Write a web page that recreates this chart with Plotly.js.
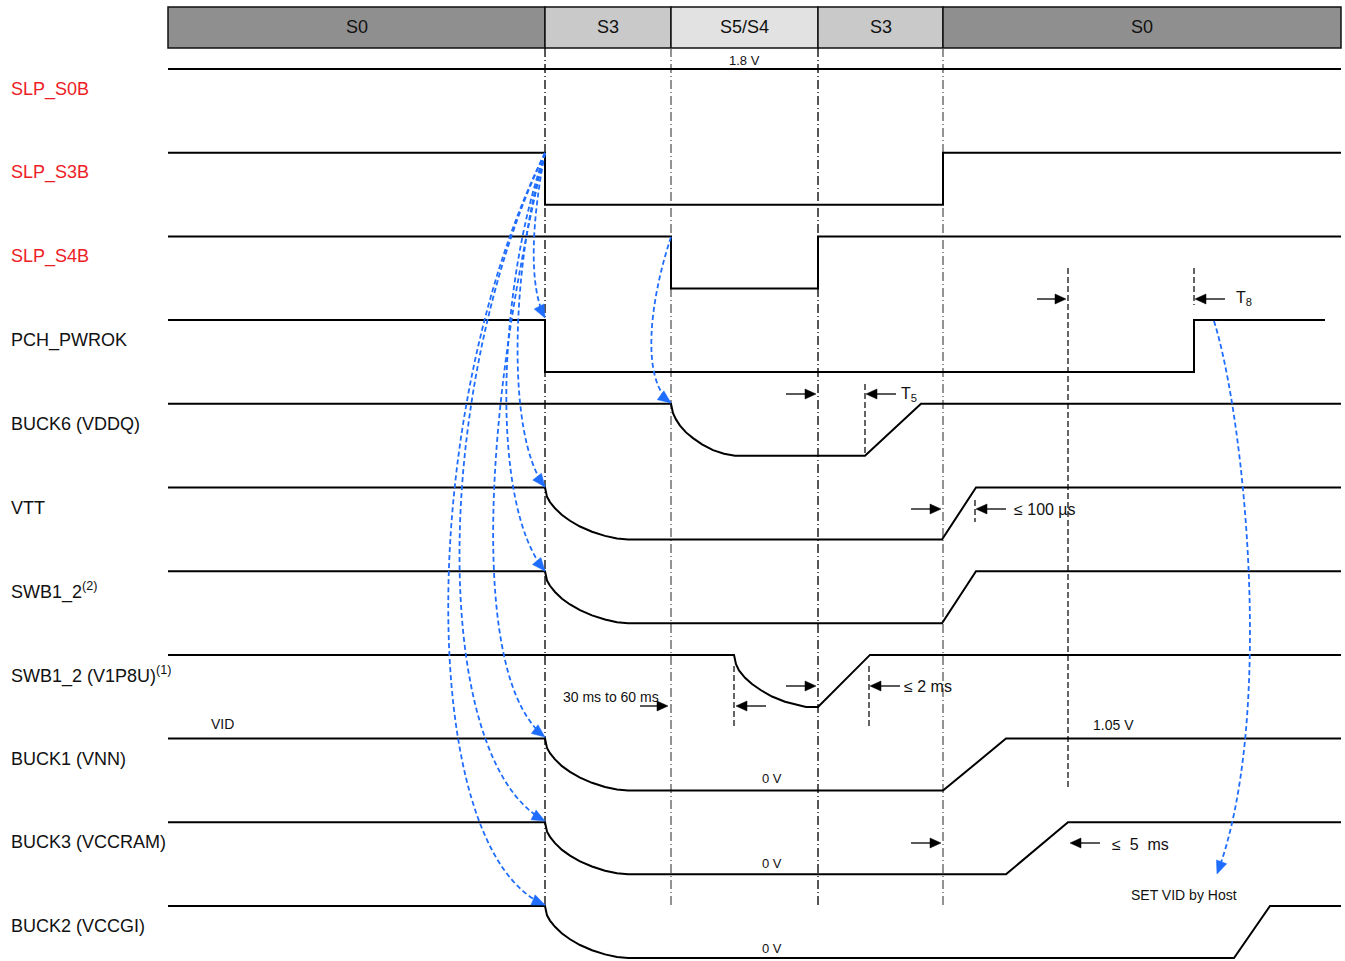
<!DOCTYPE html>
<html><head><meta charset="utf-8">
<script src="https://cdn.plot.ly/plotly-3.0.1.min.js"></script>
<style>html,body{margin:0;padding:0;background:#fff;overflow:hidden}</style>
</head><body>
<div id="chart" style="width:1345px;height:961px"></div>
<script>
// ---------------- DATA ----------------
const signalNames = ['SLP_S0B','SLP_S3B','SLP_S4B','PCH_PWROK','BUCK6 (VDDQ)','VTT',
  'SWB1_2<sup>(2)</sup>','SWB1_2 (V1P8U)<sup>(1)</sup>','BUCK1 (VNN)','BUCK3 (VCCRAM)','BUCK2 (VCCGI)'];
const labelColors = ['#ee1c25','#ee1c25','#ee1c25','#111','#111','#111','#111','#111','#111','#111','#111'];

const stateLabels = ['S0','S3','S5/S4','S3','S0'];
const stateEdges  = [168,545,671,818,943,1341];

// waveform time points (diagram time units) and normalised levels (1 = high, 0 = low)
const tS0B  = [168,1341];                         const vS0B  = [1,1];
const tS3B  = [168,545,545,943,943,1341];         const vS3B  = [1,1,0,0,1,1];
const tS4B  = [168,671,671,818,818,1341];         const vS4B  = [1,1,0,0,1,1];
const tPWROK= [168,545,545,1194,1194,1325];       const vPWROK= [1,1,0,0,1,1];
const tBUCK6= [168,671,673,676,680,686,693,702,713,724,735,865,921,1341];
const vBUCK6= [1,1,.82,.7,.58,.45,.34,.22,.11,.04,0,0,1,1];
const tVTT  = [168,545,547,550,555,562,570,580,592,605,617,628,942,976,1341];
const vVTT  = [1,1,.82,.72,.6,.47,.36,.25,.15,.07,.02,0,0,1,1];
const tSWB  = [168,545,547,550,555,562,570,580,592,605,617,628,942,976,1341];
const vSWB  = [1,1,.82,.72,.6,.47,.36,.25,.15,.07,.02,0,0,1,1];
const tV1P8U= [168,734,736,739,745,752,761,772,785,796,806,818,870,1341];
const vV1P8U= [1,1,.82,.7,.56,.44,.32,.2,.1,.04,0,0,1,1];
const tBUCK1= [168,545,547,550,555,562,570,580,592,605,617,628,943,1006,1341];
const vBUCK1= [1,1,.82,.72,.6,.47,.36,.25,.15,.07,.02,0,0,1,1];
const tBUCK3= [168,545,547,550,555,562,570,580,592,605,617,628,1006,1068,1341];
const vBUCK3= [1,1,.82,.72,.6,.47,.36,.25,.15,.07,.02,0,0,1,1];
const tBUCK2= [168,545,547,550,555,562,570,580,592,605,617,628,1234,1270,1341];
const vBUCK2= [1,1,.82,.72,.6,.47,.36,.25,.15,.07,.02,0,0,1,1];

// ---------------- LAYOUT HELPERS ----------------
const waves = [[tS0B,vS0B],[tS3B,vS3B],[tS4B,vS4B],[tPWROK,vPWROK],[tBUCK6,vBUCK6],[tVTT,vVTT],
  [tSWB,vSWB],[tV1P8U,vV1P8U],[tBUCK1,vBUCK1],[tBUCK3,vBUCK3],[tBUCK2,vBUCK2]];
const ROW0 = 69, PITCH = 83.7, SWING = 52;
const rowTop = i => ROW0 + PITCH*i;
const FONT = 'Liberation Sans, Arial, Helvetica, sans-serif';

const traces = waves.map(([t,v],i)=>({
  x: t, y: v.map(l => rowTop(i) + (1-l)*SWING),
  mode:'lines', line:{color:'#000', width:2}, hoverinfo:'skip', showlegend:false
}));

const shapes = [];
const annotations = [];

// header state boxes
const stateFill = {'S0':'#8f8f8f','S3':'#c9c9c9','S5/S4':'#e2e2e2'};
stateLabels.forEach((s,i)=>{
  shapes.push({type:'rect', xref:'x', yref:'y', x0:stateEdges[i], x1:stateEdges[i+1], y0:7, y1:48,
    fillcolor:stateFill[s], line:{color:'#111', width:1.5}, layer:'below'});
  annotations.push({x:(stateEdges[i]+stateEdges[i+1])/2, y:27, xref:'x', yref:'y', text:s, showarrow:false,
    font:{family:FONT, size:18, color:'#111'}, xanchor:'center', yanchor:'middle'});
});

// state boundary verticals
[[545,'#111'],[671,'#666'],[818,'#111'],[943,'#666']].forEach(([x,c])=>{
  shapes.push({type:'line', xref:'x', yref:'y', x0:x, x1:x, y0:48, y1:905,
    line:{color:c, width:1.4, dash:'9px,3px,1px,3px'}, layer:'below'});
});

// short dashed reference lines
[[865,384,456],[975,500,522],[1068,268,790],[1194,268,305],[734,666,728],[869,666,728]].forEach(([x,a,b])=>{
  shapes.push({type:'line', xref:'x', yref:'y', x0:x, x1:x, y0:a, y1:b,
    line:{color:'#111', width:1.3, dash:'6px,3px'}, layer:'below'});
});

// arrow helper: straight shaft + filled head
function headPath(tx,ty,dx,dy,len,hw){
  const L = Math.hypot(dx,dy), ux = dx/L, uy = dy/L;
  const bx = tx-ux*len, by = ty-uy*len;
  const px = -uy*hw, py = ux*hw;
  return `M${tx},${ty} L${bx+px},${by+py} L${bx-px},${by-py} Z`;
}
function straightArrow(x0,x1,y){
  const dir = Math.sign(x1-x0);
  shapes.push({type:'line', xref:'x', yref:'y', x0:x0, x1:x1-dir*9, y0:y, y1:y, line:{color:'#000', width:1.3}});
  shapes.push({type:'path', xref:'x', yref:'y', path:headPath(x1,y,x1-x0,0,11,5), fillcolor:'#000', line:{color:'#000', width:0.5}});
}
[[786,816,394],[896,866,394],[911,941,509],[1006,976,509],[1037,1066,299],[1225,1195,299],
 [640,668,706],[766,736,706],[786,816,686],[900,870,686],[911,941,843],[1100,1070,843]]
 .forEach(a=>straightArrow(...a));

// blue dashed causal curves
const BLUE = '#1f6dff';
function curveArrow(x0,y0,c1x,c1y,c2x,c2y,x1,y1){
  shapes.push({type:'path', xref:'x', yref:'y', path:`M${x0},${y0} C${c1x},${c1y} ${c2x},${c2y} ${x1},${y1}`,
    line:{color:BLUE, width:1.8, dash:'5px,3px'}});
  shapes.push({type:'path', xref:'x', yref:'y', path:headPath(x1,y1,x1-c2x,y1-c2y,13,5.5), fillcolor:BLUE, line:{color:BLUE, width:0.5}});
}
curveArrow(545,153, 532,220, 528,285, 545,318);
curveArrow(545,153, 512,260, 505,435, 545,487);
curveArrow(545,153, 497,290, 490,505, 545,571);
curveArrow(545,153, 482,410, 470,680, 545,737);
curveArrow(545,153, 432,390, 430,760, 545,821);
curveArrow(545,153, 417,410, 415,850, 545,905);
curveArrow(671,237, 650,300, 640,380, 671,403);
curveArrow(1214,321, 1245,420, 1275,720, 1217,874);

// signal labels
signalNames.forEach((n,i)=>{
  annotations.push({x:10, y:rowTop(i)+20, xref:'x', yref:'y', text:n, showarrow:false, borderpad:0,
    font:{family:FONT, size:18, color:labelColors[i]}, xanchor:'left', yanchor:'middle'});
});

// small texts
const txt = (x,y,t,size,anchor)=>annotations.push({x:x, y:y, xref:'x', yref:'y', text:t, showarrow:false,
  font:{family:FONT, size:size, color:'#111'}, xanchor:anchor||'center', yanchor:'middle'});
txt(744,60,'1.8 V',13);
txt(222,724,'VID',14);
txt(1113,725,'1.05 V',14);
txt(772,778,'0 V',13);
txt(772,863,'0 V',13);
txt(772,948,'0 V',13);
txt(611,697,'30 ms to 60 ms',14);
txt(1184,895,'SET VID by Host',14);
txt(899,394,'T<sub>5</sub>',16,'left');
txt(1234,298,'T<sub>8</sub>',16,'left');
txt(1012,509,'≤ 100 µs',16,'left');
txt(902,686,'≤ 2 ms',16,'left');
txt(1110,844,'≤  5  ms',16,'left');

const layout = {
  width:1345, height:961, margin:{l:0,r:0,t:0,b:0},
  paper_bgcolor:'#fff', plot_bgcolor:'#fff', showlegend:false,
  xaxis:{range:[0,1345], visible:false, fixedrange:true},
  yaxis:{range:[961,0], visible:false, fixedrange:true},
  shapes:shapes, annotations:annotations
};
Plotly.newPlot('chart', traces, layout, {staticPlot:true, displayModeBar:false});
</script>
</body></html>
